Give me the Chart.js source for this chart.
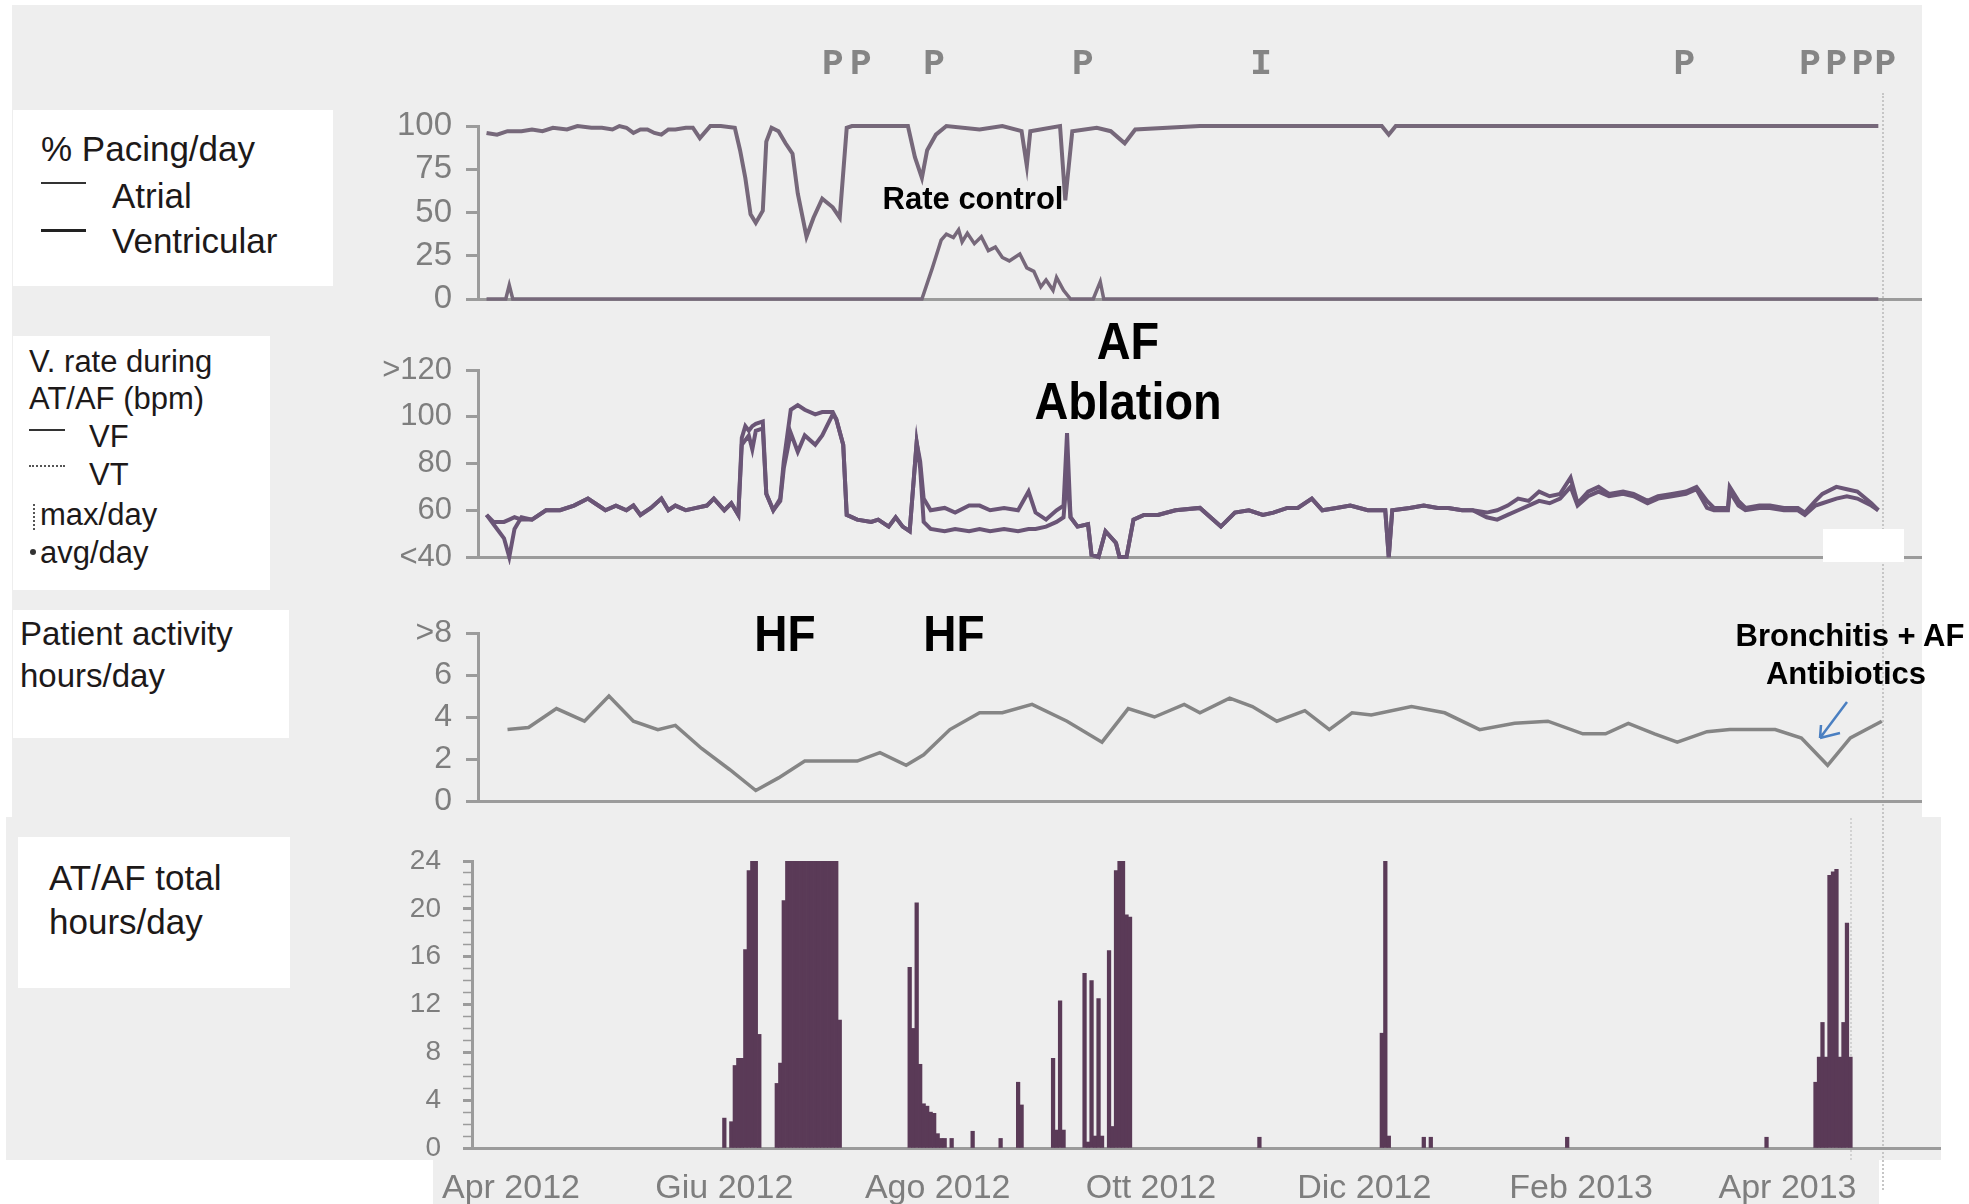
<!DOCTYPE html>
<html lang="en">
<head>
<meta charset="UTF-8">
<title>Device trend report</title>
<script src="https://cdn.jsdelivr.net/npm/chart.js"></script>
<style>
  body { margin: 0; width: 1969px; height: 1204px; background: #fff; position: relative; overflow: hidden;
         font-family: "Liberation Sans", Arial, sans-serif; }
  .paper { position: absolute; background: #eeeeee; }
  .box { position: absolute; background: #fff; }
  .t { position: absolute; transform: translateY(-50%); white-space: nowrap; color: #1d1919; line-height: 1; }
  .note { position: absolute; white-space: nowrap; font-weight: bold; color: #000; line-height: 1; }
  canvas { position: absolute; }
  .vline { position: absolute; width: 0; }
</style>
</head>
<body>

<div class="paper" style="left:12px;top:5px;width:1910px;height:812px"></div>
<div class="paper" style="left:6px;top:817px;width:1935px;height:343px"></div>
<div class="paper" style="left:433px;top:1160px;width:1446px;height:44px"></div>

<div class="vline" style="left:1882px;top:93px;height:1097px;border-left:2px dotted #c6c6c6"></div>
<div class="vline" style="left:1850px;top:818px;height:342px;border-left:2px dotted #d2d2d2"></div>

<!-- legend boxes -->
<div class="box" style="left:13px;top:110px;width:320px;height:176px"></div>
<div class="box" style="left:13px;top:336px;width:257px;height:254px"></div>
<div class="box" style="left:13px;top:610px;width:276px;height:128px"></div>
<div class="box" style="left:18px;top:837px;width:272px;height:151px"></div>

<div class="t" style="left:41px;top:148px;font-size:35px">% Pacing/day</div>
<div style="position:absolute;left:41px;top:182px;width:45px;height:2px;background:#333"></div>
<div class="t" style="left:112px;top:195px;font-size:35px">Atrial</div>
<div style="position:absolute;left:41px;top:229px;width:45px;height:3px;background:#222"></div>
<div class="t" style="left:112px;top:240px;font-size:35px">Ventricular</div>

<div class="t" style="left:29px;top:361px;font-size:31px">V. rate during</div>
<div class="t" style="left:29px;top:398px;font-size:31px">AT/AF (bpm)</div>
<div style="position:absolute;left:29px;top:429px;width:36px;height:2px;background:#333"></div>
<div class="t" style="left:89px;top:436px;font-size:31px">VF</div>
<div style="position:absolute;left:29px;top:465px;width:36px;height:0;border-top:2px dotted #555"></div>
<div class="t" style="left:89px;top:474px;font-size:31px">VT</div>
<div style="position:absolute;left:33px;top:504px;width:0;height:26px;border-left:2px dotted #555"></div>
<div class="t" style="left:40px;top:514px;font-size:31px">max/day</div>
<div style="position:absolute;left:30px;top:549px;width:6px;height:6px;border-radius:3px;background:#333"></div>
<div class="t" style="left:40px;top:552px;font-size:31px">avg/day</div>

<div class="t" style="left:20px;top:633px;font-size:33px">Patient activity</div>
<div class="t" style="left:20px;top:675px;font-size:33px">hours/day</div>

<div class="t" style="left:49px;top:877px;font-size:35px">AT/AF total</div>
<div class="t" style="left:49px;top:921px;font-size:35px">hours/day</div>

<canvas id="pacing" width="1551" height="339" style="left:378px;top:0px"></canvas>
<canvas id="vrate" width="1551" height="267" style="left:378px;top:330px"></canvas>
<canvas id="activity" width="1551" height="244" style="left:378px;top:597px"></canvas>
<canvas id="afburden" width="1576" height="388" style="left:372px;top:816px"></canvas>

<!-- white scan patch over the V. rate panel -->
<div style="position:absolute;left:1823px;top:529px;width:81px;height:33px;background:#fff"></div>

<div class="note" style="left:973px;top:198px;font-size:31px;transform:translate(-50%,-50%)">Rate control</div>
<div class="note" style="left:1128px;top:341px;font-size:52px;transform:translate(-50%,-50%) scaleX(0.9)">AF</div>
<div class="note" style="left:1128px;top:401px;font-size:52px;transform:translate(-50%,-50%) scaleX(0.9)">Ablation</div>
<div class="note" style="left:785px;top:634px;font-size:50px;transform:translate(-50%,-50%) scaleX(0.92)">HF</div>
<div class="note" style="left:954px;top:634px;font-size:50px;transform:translate(-50%,-50%) scaleX(0.92)">HF</div>
<div class="note" style="left:1850px;top:635px;font-size:31px;transform:translate(-50%,-50%)">Bronchitis + AF</div>
<div class="note" style="left:1846px;top:673px;font-size:31px;transform:translate(-50%,-50%)">Antibiotics</div>

<svg style="position:absolute;left:0;top:0" width="1969" height="1204">
  <path d="M1847 702 L1820 738 M1820 738 L1821 725 M1820 738 L1840 733" stroke="#4a7fc1" stroke-width="2.5" fill="none"/>
</svg>

<script>
// x values are days counted from 1 Apr 2012
const monthDay = [0, 61, 122, 183, 244, 306, 365];
const monthLabel = ['Apr 2012', 'Giu 2012', 'Ago 2012', 'Ott 2012', 'Dic 2012', 'Feb 2013', 'Apr 2013'];

// event markers above the pacing panel
const markerDay = [92, 100, 121, 163.5, 214.5, 335.5, 371.5, 379, 386.5, 393];
const markerText = ['P', 'P', 'P', 'P', 'I', 'P', 'P', 'P', 'P', 'P'];

// % pacing per day
const atrialDay = [-7, -4, -1, 3, 6, 9, 12, 16, 19, 23,
    26, 29, 31, 33, 35, 37, 39, 41, 43, 45,
    47, 50, 52, 54, 57, 60, 64, 65.5, 67, 68.5,
    70, 72, 73, 74.5, 76.5, 78.5, 80.5, 82, 84.5, 86.5,
    89, 92, 94, 96, 97.5, 113.5, 115.5, 117.5, 119, 121.5,
    124.5, 134, 140.5, 146, 147.5, 148.5, 157, 158.5, 160.5, 167.5,
    171.5, 175.5, 178.5, 197, 249, 251, 253, 391];
const atrialPct = [96, 95, 97, 97, 98, 97, 99, 98, 100, 99,
    99, 98, 100, 99, 96, 98, 98, 96, 95, 98,
    98, 99, 99, 93, 100, 100, 99, 86, 70, 49,
    44, 51, 91, 99, 97, 90, 84, 61, 36, 47,
    58, 53, 47, 99, 100, 100, 82, 70, 86, 95,
    100, 98, 100, 97, 77, 97, 100, 57, 97, 99,
    97, 90, 98, 100, 100, 95, 100, 100];
const ventDay = [-7, -1.5, -0.5, 0.5, 117.5, 120.5, 123, 124.5, 126.5, 128,
    129, 130.5, 132.5, 134.5, 136.5, 138.5, 140.5, 142.5, 145.5, 147.5,
    149.5, 151.5, 153, 155, 156, 158, 160, 166.5, 168.5, 169.5, 391];
const ventPct = [0, 0, 8, 0, 0, 18, 34, 37.5, 35.5, 40,
    33, 38, 32, 36, 28, 30, 24, 22, 26, 18,
    16, 7, 11, 5, 12.5, 5, 0, 0, 10, 0, 0];

// ventricular rate during AT/AF (bpm)
const rateDay = [-7, -5, -2, -0.5, 1, 3, 6, 10, 14, 18,
    22, 24, 27, 30, 33, 35, 37, 40, 43, 45,
    47, 50, 53, 56, 58, 61, 63, 65, 66, 67,
    68, 69, 70, 72, 73, 75, 77, 78, 80, 82,
    84, 87, 89, 92, 93, 95, 96, 99, 103, 105,
    108, 110, 112, 114, 116, 117, 118, 120, 124, 127,
    131, 134, 137, 141, 145, 148, 150, 153, 156, 158,
    159, 160, 162, 165, 166, 168, 170, 173, 174, 176,
    178, 181, 185, 190, 197, 203, 207, 211, 215, 218,
    222, 225, 229, 232, 236, 240, 245, 250, 251, 252,
    257, 261, 265, 268, 272, 275, 279, 282, 285, 288,
    291, 294, 297, 300, 303, 305, 308, 311, 314, 318,
    321, 325, 328, 332, 336, 339, 342, 344, 348, 348.5,
    351, 353, 357, 360, 364, 368, 370, 373, 375, 379,
    382, 385, 389, 391];
const rateMax = [58, 55, 55, 56, 57, 56, 56, 60, 60, 62,
    65, 63, 60, 62, 60, 62, 58, 61, 65, 60,
    62, 60, 61, 62, 65, 60, 63, 58, 91, 96,
    94, 96, 97, 98, 67, 60, 65, 81, 103, 105,
    103, 101, 102, 102, 99, 88, 58, 56, 55, 56,
    53, 57, 53, 51, 89, 81, 65, 60, 61, 59,
    62, 62, 60, 61, 60, 68, 59, 56, 60, 62,
    93, 57, 53, 54, 41, 40, 51, 46, 40, 40,
    56, 58, 58, 60, 61, 53, 59, 60, 58, 59,
    61, 61, 65, 60, 61, 62, 60, 60, 40, 60,
    61, 62, 61, 61, 60, 60, 59, 60, 62, 65,
    64, 68, 66, 67, 74, 63, 68, 70, 67, 68,
    67, 64, 66, 67, 68, 70, 64, 61, 61, 70,
    64, 61, 62, 62, 61, 61, 59, 64, 67, 70,
    69, 68, 63, 60];
const rateAvg = [58, 54, 48, 40, 52, 57, 56, 60, 60, 62,
    65, 63, 60, 62, 60, 62, 58, 61, 65, 60,
    62, 60, 61, 62, 65, 60, 63, 58, 88, 90,
    92, 86, 94, 95, 67, 60, 64, 78, 93, 85,
    92, 88, 92, 101, 99, 88, 58, 56, 55, 56,
    53, 57, 53, 51, 89, 78, 55, 52, 51, 52,
    51, 52, 51, 52, 51, 52, 52, 53, 55, 57,
    75, 57, 53, 54, 41, 40, 51, 46, 40, 40,
    56, 58, 58, 60, 61, 53, 59, 60, 58, 59,
    61, 61, 65, 60, 61, 62, 60, 60, 40, 60,
    61, 62, 61, 61, 60, 60, 57, 56, 58, 60,
    62, 64, 63, 65, 70, 62, 66, 68, 66, 67,
    66, 63, 65, 66, 67, 69, 61, 60, 60, 68,
    62, 60, 61, 61, 60, 60, 58, 62, 63, 65,
    66, 65, 62, 60];

// patient activity hours/day
const actDay = [-1, 5, 13, 21, 28, 35, 42, 47, 54.5, 62.5,
    70, 76.5, 84, 91, 99, 105.5, 113, 118, 125.5, 134,
    140.5, 149, 159, 169, 176.5, 184, 192.5, 197, 205.5, 212,
    219, 227, 234, 240.5, 246, 257.5, 267, 277, 287, 296.5,
    306.5, 313, 319.5, 327, 333.5, 342, 348.5, 361.5, 369, 376.5,
    383, 392];
const actHours = [3.4, 3.5, 4.4, 3.8, 5.0, 3.8, 3.4, 3.6, 2.5, 1.5,
    0.5, 1.1, 1.9, 1.9, 1.9, 2.3, 1.7, 2.2, 3.4, 4.2,
    4.2, 4.6, 3.8, 2.8, 4.4, 4.0, 4.6, 4.2, 4.9, 4.5,
    3.8, 4.3, 3.4, 4.2, 4.1, 4.5, 4.2, 3.4, 3.7, 3.8,
    3.2, 3.2, 3.7, 3.2, 2.8, 3.3, 3.4, 3.4, 3.0, 1.7,
    3.0, 3.8];

// AT/AF total hours/day
const afDay = [61, 63, 64, 65, 66, 67, 68, 69, 70, 71,
    76, 77, 78, 79, 80, 81, 82, 83, 84, 85,
    86, 87, 88, 89, 90, 91, 92, 93, 94,
    114, 115, 116, 117, 118, 119, 120, 121, 122, 123,
    124, 126, 132, 140, 145, 146, 155, 156, 157, 158,
    164, 165, 166, 167, 168, 169, 171, 172, 173, 174,
    175, 176, 177,
    214, 249, 250, 251, 261, 263, 302,
    359, 373, 374, 375, 376, 377, 378, 379, 380, 381,
    382, 383];
const afHours = [2.5, 2.2, 6.9, 7.5, 7.5, 16.6, 23.2, 24, 24, 9.5,
    5.4, 7.1, 20.7, 24, 24, 24, 24, 24, 24, 24,
    24, 24, 24, 24, 24, 24, 24, 24, 10.7,
    15.1, 10, 20.5, 7, 3.7, 3.5, 3, 2.9, 1.2, 0.8,
    0.8, 0.8, 1.4, 0.8, 5.5, 3.6, 7.5, 1.5, 12.3, 1.5,
    14.6, 0.5, 14, 1, 12.5, 1, 16.5, 1.8, 23.2, 24,
    24, 19.5, 19.3,
    0.9, 9.6, 24, 1, 0.9, 0.9, 0.9,
    0.9, 5.5, 7.6, 10.5, 7.6, 22.8, 23.1, 23.3, 7.6, 10.5,
    18.8, 7.6];

const axisGrey = '#9b9b9b';
const tickGrey = '#7e7e7e';
Chart.defaults.font.family = '"Liberation Sans", Arial, sans-serif';

function pts(xs, ys) {
    return xs.map((x, i) => ({ x: x, y: ys[i] }));
}

function makeX(min, max, labels) {
    const cfg = {
        type: 'linear', min: min, max: max, offset: false,
        grid: { display: false, drawTicks: false },
        border: { display: true, color: axisGrey, width: 3 },
        ticks: { display: false },
        afterFit: s => { s.height = labels ? 56 : 0; }
    };
    if (labels) {
        cfg.ticks = {
            autoSkip: false, maxRotation: 0, padding: 20,
            color: tickGrey, font: { size: 34 },
            callback: v => monthLabel[monthDay.indexOf(v)]
        };
        cfg.afterBuildTicks = s => { s.ticks = monthDay.map(v => ({ value: v })); };
    }
    return cfg;
}

function makeY(min, max, step, size, fmt, tickLen, tickW, pad) {
    return {
        min: min, max: max,
        ticks: { stepSize: step, autoSkip: false, padding: pad, color: tickGrey, font: { size: size }, callback: fmt },
        grid: { drawOnChartArea: false, drawTicks: true, tickLength: tickLen, tickColor: axisGrey, tickWidth: tickW },
        border: { display: true, color: axisGrey, width: 3 },
        afterFit: s => { s.width = 100; }
    };
}

function lineSet(data, color, width) {
    return { data: data, borderColor: color, borderWidth: width, pointRadius: 0, tension: 0, fill: false, clip: 8 };
}

const baseOpts = (pad, xCfg, yCfg) => ({
    responsive: false, animation: false,
    layout: { padding: pad },
    plugins: { legend: { display: false }, tooltip: { enabled: false } },
    scales: { x: xCfg, y: yCfg }
});

const markerPlugin = {
    id: 'markers',
    afterDraw(chart) {
        const ctx = chart.ctx;
        const xs = chart.scales.x;
        ctx.save();
        ctx.font = 'bold 36px "Liberation Mono", "Courier New", monospace';
        ctx.fillStyle = '#858585';
        ctx.textAlign = 'center';
        ctx.textBaseline = 'middle';
        markerDay.forEach((d, i) => ctx.fillText(markerText[i], xs.getPixelForValue(d), 65));
        ctx.restore();
    }
};

const xLo = -9.44, xHi = 403.2;

new Chart(document.getElementById('pacing'), {
    type: 'line',
    data: { datasets: [
        lineSet(pts(atrialDay, atrialPct), '#76687a', 4),
        lineSet(pts(ventDay, ventPct), '#76687a', 3.5)
    ] },
    options: baseOpts({ top: 126, right: 8, bottom: 40, left: 0 }, makeX(xLo, xHi, false),
        makeY(0, 100, 25, 33, v => v, 12, 3, 14)),
    plugins: [markerPlugin]
});

new Chart(document.getElementById('vrate'), {
    type: 'line',
    data: { datasets: [
        lineSet(pts(rateDay, rateMax), '#6a5576', 4),
        lineSet(pts(rateDay, rateAvg), '#6a5576', 4)
    ] },
    options: baseOpts({ top: 40, right: 8, bottom: 40, left: 0 }, makeX(xLo, xHi, false),
        makeY(40, 120, 20, 31, v => v === 120 ? '>120' : (v === 40 ? '<40' : v), 12, 3, 14))
});

new Chart(document.getElementById('activity'), {
    type: 'line',
    data: { datasets: [lineSet(pts(actDay, actHours), '#858585', 3.5)] },
    options: baseOpts({ top: 36, right: 8, bottom: 40, left: 0 }, makeX(xLo, xHi, false),
        makeY(0, 8, 2, 32, v => v === 8 ? '>8' : v, 12, 3, 14))
});

new Chart(document.getElementById('afburden'), {
    type: 'bar',
    data: { datasets: [{
        data: pts(afDay, afHours), backgroundColor: '#5a3a57', borderWidth: 0, barThickness: 3.6
    }] },
    options: baseOpts({ top: 45, right: 8, bottom: 0, left: 0 }, makeX(-11.15, 408.6, true),
        makeY(0, 24, 1, 28, v => v % 4 === 0 ? v : '', 9, c => (c.tick && c.tick.value % 4 === 0) ? 3 : 1.5, 22))
});
</script>
</body>
</html>
